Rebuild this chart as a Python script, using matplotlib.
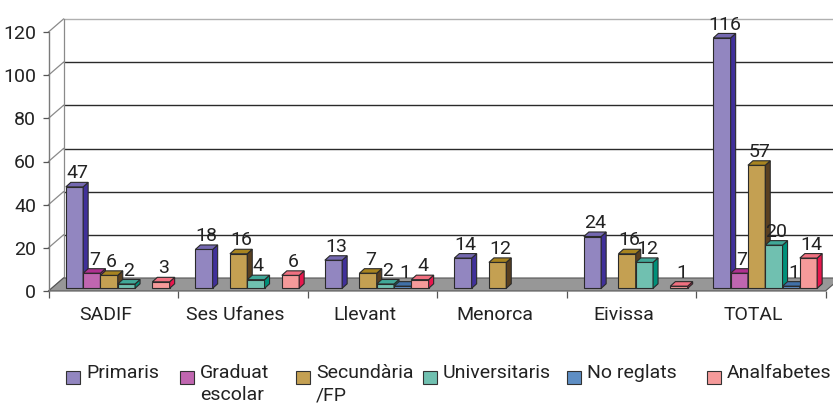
import matplotlib
matplotlib.use('Agg')
import matplotlib.pyplot as plt
from matplotlib.patches import Polygon, Rectangle

categories = ['SADIF', 'Ses Ufanes', 'Llevant', 'Menorca', 'Eivissa', 'TOTAL']
series_names = ['Primaris', 'Graduat\nescolar', 'Secundària\n/FP', 'Universitaris', 'No reglats', 'Analfabetes']
primaris = [47, 18, 13, 14, 24, 116]
graduat = [7, 0, 0, 0, 0, 7]
secundaria = [6, 16, 7, 12, 16, 57]
universitaris = [2, 4, 2, 0, 12, 20]
no_reglats = [0, 0, 1, 0, 0, 1]
analfabetes = [3, 6, 4, 0, 1, 14]
yticks = [0, 20, 40, 60, 80, 100, 120]

series = [primaris, graduat, secundaria, universitaris, no_reglats, analfabetes]
front_colors = ['#9286C0', '#C066B0', '#C4A052', '#70C0B0', '#5E8EC4', '#F59A9A']
side_colors = ['#40309A', '#A0208A', '#5A4020', '#00907A', '#2A5A9A', '#E8174D']
top_colors = ['#7468B0', '#B03090', '#A88420', '#40A898', '#4070A8', '#F07080']

plt.rcParams['font.family'] = ['Roboto', 'DejaVu Sans']
FS = 14

W, H = 833, 417
fig = plt.figure(figsize=(W / 100, H / 100), dpi=100)
ax = fig.add_axes([48.5 / W, (H - 291) / H, 777 / W, 259 / H])
ax.set_xlim(0, 6)
ax.set_ylim(0, 120)

pxx = 129.5  # px per category
pxy = 259 / 120  # px per unit
dx_w, dy_w = 15 / pxx, 13 / pxy
bx, by = 4.5 / pxx, 1.25
w = 17.3 / pxx
ddx, ddy = 5 / pxx, 4.5 / pxy
n = len(categories)

# back wall & grid
for v in yticks:
    ax.plot([0, dx_w], [v, v + dy_w], color='#8a8a8a', lw=0.9, clip_on=False, zorder=1)
    if v > 0:
        col = '#b0b0b0' if v == yticks[-1] else '#2a2a2a'
        ax.plot([dx_w, n + 0.3], [v + dy_w, v + dy_w], color=col, lw=1.0, clip_on=False, zorder=1)
ax.plot([dx_w, dx_w], [dy_w, yticks[-1] + dy_w], color='#8a8a8a', lw=0.9, clip_on=False, zorder=1)

# floor
floor = Polygon([(0, 0), (n, 0), (n + dx_w, dy_w), (dx_w, dy_w)], closed=True,
                fc='#979797', ec='#555555', lw=0.8, clip_on=False, zorder=2)
ax.add_patch(floor)

# bars
for i, vals in enumerate(series):
    xs, hs = [], []
    for c, v in enumerate(vals):
        if v > 0:
            xs.append(c + 0.5 - 3 * w + i * w + bx)
            hs.append(v)
    z = 3 + i
    ax.bar(xs, hs, width=w, bottom=by, align='edge', color=front_colors[i],
           edgecolor='#2a2a2a', linewidth=0.8, zorder=z, clip_on=False)
    for x0, v in zip(xs, hs):
        top = by + v
        side = Polygon([(x0 + w, by), (x0 + w + ddx, by + ddy), (x0 + w + ddx, top + ddy), (x0 + w, top)],
                       closed=True, fc=side_colors[i], ec='#2a2a2a', lw=0.8, zorder=z, clip_on=False)
        topf = Polygon([(x0, top), (x0 + w, top), (x0 + w + ddx, top + ddy), (x0 + ddx, top + ddy)],
                       closed=True, fc=top_colors[i], ec='#2a2a2a', lw=0.8, zorder=z, clip_on=False)
        ax.add_patch(side)
        ax.add_patch(topf)
        ax.text(x0 + w / 2 + ddx / 2, top + ddy + 1.8, str(v), ha='center', va='baseline',
                fontsize=FS, color='#222222', zorder=20)

# axes styling
for s in ['top', 'right', 'bottom']:
    ax.spines[s].set_visible(False)
ax.spines['left'].set_color('#7a7a7a')
ax.spines['left'].set_linewidth(1.0)
ax.set_yticks(yticks)
ax.set_yticklabels([str(t) for t in yticks])
ax.tick_params(axis='y', length=4, width=0.9, color='#555555', pad=5, labelsize=FS, labelcolor='#222222')
ax.set_xticks([c + 0.5 - 0.055 for c in range(n)])
ax.set_xticklabels(categories)
ax.set_xticks(list(range(n + 1)), minor=True)
ax.tick_params(axis='x', which='major', length=0, pad=11, labelsize=FS, labelcolor='#222222')
ax.tick_params(axis='x', which='minor', length=5, width=0.9, color='#555555')
ax.patch.set_alpha(0)

# legend
leg_x = [66, 180, 296, 423, 567, 707]
for i, name in enumerate(series_names):
    x = leg_x[i]
    fig.patches.append(Rectangle((x / W, (H - 384) / H), 13.5 / W, 13.5 / H, transform=fig.transFigure,
                                 fc=front_colors[i], ec='#333333', lw=0.8))
    fig.text((x + 20) / W, (H - 364) / H, name, ha='left', va='top', fontsize=FS,
             color='#222222', linespacing=1.3)

fig.savefig('out.png', dpi=100)
